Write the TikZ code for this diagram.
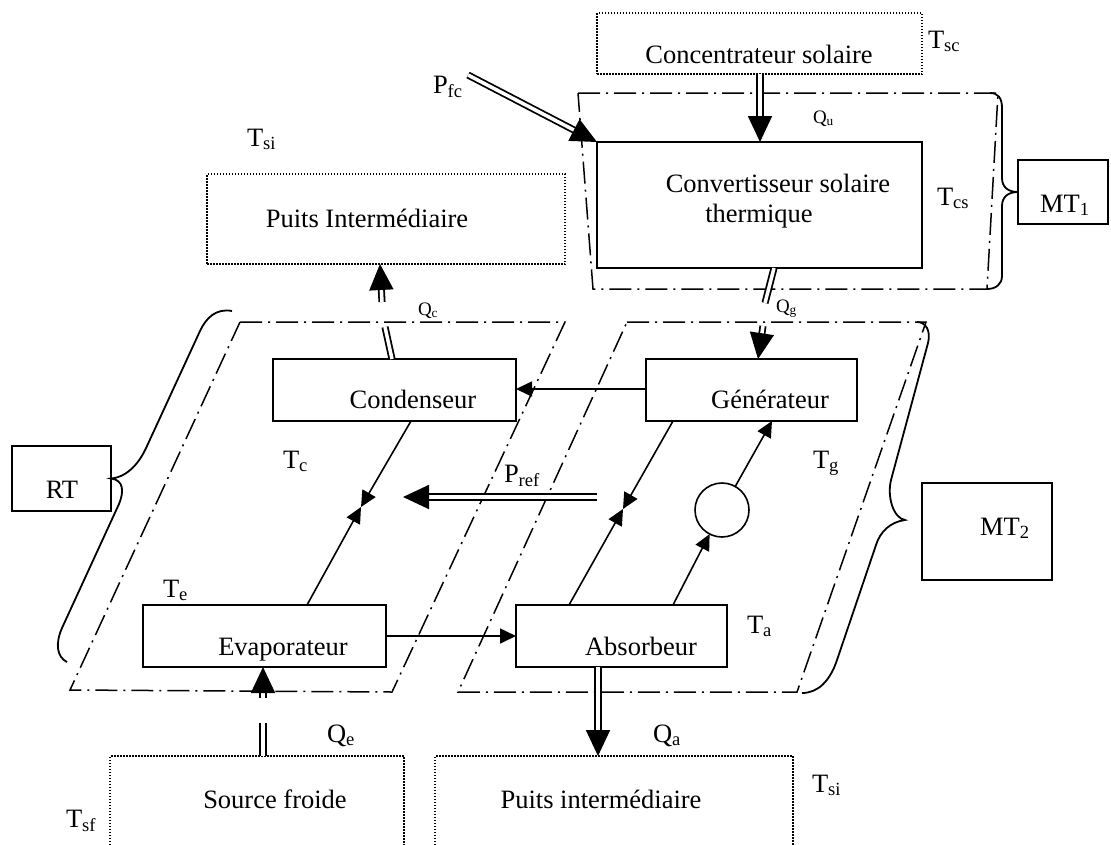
\documentclass[tikz,border=0pt]{standalone}
\usepackage{fontspec}
\setmainfont{Liberation Serif}
\usetikzlibrary{arrows.meta}
\begin{document}
\begin{tikzpicture}[x=1pt,y=-1pt,
 every node/.style={inner sep=0pt,outer sep=0pt},
 plainbox/.style={draw,line width=1.7pt},
 heavybox/.style={draw,line width=2.3pt},
 dotbox/.style={draw,line width=1.5pt,dash pattern=on 1.5pt off 1.5pt},
 dotline/.style={line width=1.5pt,dash pattern=on 1.5pt off 1.5pt},
 zone/.style={line width=1.5pt,dash pattern=on 22pt off 6pt on 2pt off 6pt},
 brace/.style={line width=1.8pt},
 arr/.style={line width=1.6pt,-{Triangle[length=16pt,width=15pt]}},
 dbl/.style={double,double distance=3.5pt,line width=1.8pt},
 dblarr/.style={dbl,-{Triangle[length=26pt,width=24pt]}},
 txt/.style={font=\fontsize{26.5}{30}\selectfont,anchor=base},
 txtw/.style={txt,anchor=base west},
 smalltxt/.style={font=\fontsize{19}{22}\selectfont,anchor=base west}]

\useasboundingbox (0,0) rectangle (1111,844);

% boxes
\node[dotbox,minimum width=325,minimum height=61] (conc) at (759.5,43.5) {};
\node[heavybox,minimum width=325,minimum height=126] (conv) at (759.5,205) {};
\node[dotbox,minimum width=358,minimum height=90] (puitsH) at (386,219) {};
\node[plainbox,minimum width=243,minimum height=62] (cond) at (394.5,390) {};
\node[plainbox,minimum width=211,minimum height=62] (gen) at (751.5,390) {};
\node[plainbox,minimum width=243,minimum height=62] (evap) at (264.5,636) {};
\node[plainbox,minimum width=211,minimum height=62] (abs) at (621.5,636) {};
\node[minimum width=294,minimum height=92] (src) at (257,802) {};
\node[minimum width=358,minimum height=92] (puitsB) at (614,802) {};
\node[plainbox,minimum width=99,minimum height=65] (rt) at (61.5,478.5) {};
\node[plainbox,minimum width=90,minimum height=64] (mt1) at (1063,192) {};
\node[plainbox,minimum width=130,minimum height=97] (mt2) at (987,531.5) {};
\node[draw,circle,line width=1.6pt,minimum size=54] (pump) at (722,510) {};
\draw[dotline] (src.south west) -- (src.north west) -- (src.north east) -- (src.south east);
\draw[dotline] (puitsB.south west) -- (puitsB.north west) -- (puitsB.north east) -- (puitsB.south east);

% texts
\node[txt] (tconc) at (759,63) {Concentrateur solaire};
\node[txt] (tconv1) at (778,192) {Convertisseur solaire};
\node[txt] (tconv2) at (759,222) {thermique};
\node[txt] (tpuitsH) at (367,227) {Puits Intermédiaire};
\node[txt] (tcond) at (413,408) {Condenseur};
\node[txt] (tgen) at (770,408) {Générateur};
\node[txt] (tevap) at (283,655) {Evaporateur};
\node[txt] (tabs) at (641,655) {Absorbeur};
\node[txt] (tsrc) at (275,808) {Source froide};
\node[txt] (tpuitsB) at (601,808) {Puits intermédiaire};
\node[txt] (trt) at (62,498) {RT};
\node[txtw] (tmt1) at (1040,212) {MT\textsubscript{1}};
\node[txtw] (tmt2) at (980,535) {MT\textsubscript{2}};

\node[txtw] (tsc) at (928,48) {T\textsubscript{sc}};
\node[txtw] (tcs) at (937,205) {T\textsubscript{cs}};
\node[txtw] (tsi1) at (247,146) {T\textsubscript{si}};
\node[txtw] (tc) at (283,468) {T\textsubscript{c}};
\node[txtw] (tg) at (813,468) {T\textsubscript{g}};
\node[txtw] (te) at (163,597) {T\textsubscript{e}};
\node[txtw] (ta) at (747,633) {T\textsubscript{a}};
\node[txtw] (tsf) at (66,827) {T\textsubscript{sf}};
\node[txtw] (tsi2) at (812,792) {T\textsubscript{si}};
\node[txtw] (lpfc) at (433,93) {P\textsubscript{fc}};
\node[txtw] (lpref) at (504,482) {P\textsubscript{ref}};
\node[txtw] (lqe) at (327,742) {Q\textsubscript{e}};
\node[txtw] (lqa) at (653,742) {Q\textsubscript{a}};
\node[smalltxt] (lqu) at (813,123) {Q\textsubscript{u}};
\node[smalltxt] (lqc) at (418,315) {Q\textsubscript{c}};
\node[smalltxt] (lqg) at (776,312) {Q\textsubscript{g}};

% zones
\draw[zone] (578,93) -- (998,93) -- (987,289) -- (593,289) -- cycle;
\draw[zone] (240,322) -- (565,322) -- (392,692) -- (70,690) -- cycle;
\draw[zone] (627,322) -- (926,322) -- (797,692) -- (458,692) -- cycle;

% braces
\draw[brace] (990,93) .. controls (998,93) and (1002,98) .. (1002,108) -- (1002,178) .. controls (1002,187) and (1008,192) .. (mt1.west) .. controls (1008,192) and (1002,197) .. (1002,206) -- (1002,276) .. controls (1002,284) and (996,289) .. (987,289);
\draw[brace] (232,311) .. controls (216,308) and (206,318) .. (200,331) -- (147,446) .. controls (140,462) and (128,477) .. (rt.east) .. controls (124,480) and (124,492) .. (119,504) -- (62,628) .. controls (55,644) and (57,657) .. (67,662);
\coordinate (mt2tip) at (905,520);
\draw[brace] (917,322) .. controls (926,322) and (931,331) .. (928,343) -- (891,480) .. controls (887,496) and (893,518) .. (mt2tip) .. controls (890,522) and (880,532) .. (876,545) -- (837,660) .. controls (830,681) and (818,693) .. (802,693);

% double (heat / power) arrows
\coordinate (pfcS) at (468,75);
\draw[dblarr] (pfcS) -- (conv.north west);
\draw[dblarr] (conc.south -| 760,0) -- (conv.north -| 760,0);
\coordinate (qc1) at (385,327);
\coordinate (qc2) at (382,302);
\draw[dbl] (cond.north -| 392,0) -- (qc1);
\draw[dblarr] (qc2) -- (puitsH.south -| 380,0);
\coordinate (qg1) at (765,303);
\coordinate (qg2) at (763,326);
\draw[dbl] (conv.south -| 774,0) -- (qg1);
\draw[dblarr] (qg2) -- (gen.north -| 758,0);
\coordinate (qe1) at (263,723);
\coordinate (qe2) at (263,698);
\draw[dbl] (src.north -| 263,0) -- (qe1);
\draw[dblarr] (qe2) -- (evap.south -| 263,0);
\draw[dblarr] (abs.south -| 598,0) -- (puitsB.north -| 598,0);
\coordinate (prefS) at (597,497);
\coordinate (prefE) at (403,497);
\draw[dblarr] (prefS) -- (prefE);

% fluid lines
\draw[arr] (gen.west |- 0,389) -- (cond.east |- 0,389);
\draw[arr] (evap.east |- 0,636) -- (abs.west |- 0,636);
\coordinate (m1) at (361,507);
\coordinate (m2) at (623,509);
\draw[arr] (cond.south -| 411,0) -- (m1);
\draw[arr] (evap.north -| 307,0) -- (m1);
\draw[arr] (gen.south -| 673,0) -- (m2);
\draw[arr] (abs.north -| 569,0) -- (m2);
\draw[arr] (abs.north -| 673,0) -- (pump);
\draw[arr] (pump) -- (gen.south -| 772,0);
\end{tikzpicture}
\end{document}
